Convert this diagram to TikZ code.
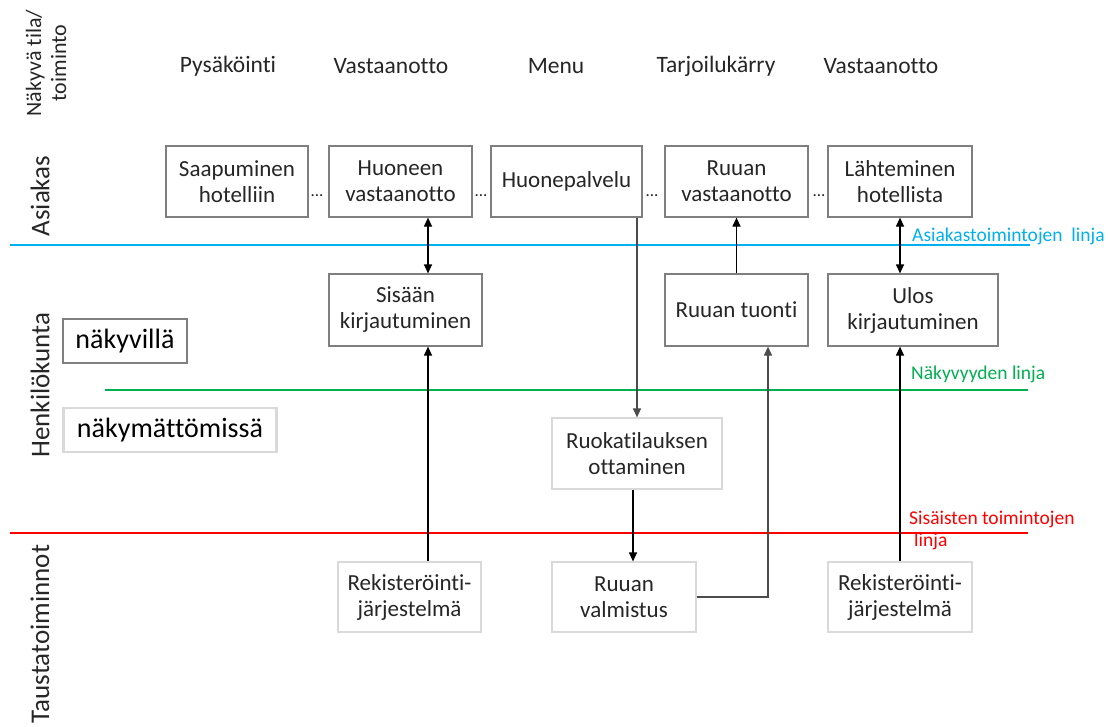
\documentclass[tikz,border=0pt]{standalone}
\usepackage{fontspec}
\setmainfont[Ligatures=NoCommon]{Carlito}
\usetikzlibrary{arrows.meta}
\definecolor{lblue}{RGB}{0,176,240}
\definecolor{lgreen}{RGB}{0,176,80}
\definecolor{lred}{RGB}{255,0,0}
\definecolor{dgray}{RGB}{127,127,127}
\definecolor{lgray}{RGB}{217,217,217}
\definecolor{txt}{RGB}{38,38,38}
\tikzset{
  ubox/.style={draw=dgray, line width=1.2pt, fill=white, inner sep=0pt, align=center, text=txt, font=\fontsize{23}{26}\selectfont},
  lbox/.style={ubox, draw=lgray},
  head/.style={text=txt, font=\fontsize{23.5}{26}\selectfont},
  side/.style={rotate=90, text=txt, font=\fontsize{27}{30}\selectfont, align=center},
  arr/.style={line width=1.2pt, draw=black, -{Triangle[length=9pt,width=8pt]}},
  barr/.style={line width=1.2pt, draw=black, {Triangle[length=9pt,width=8pt]}-{Triangle[length=9pt,width=8pt]}},
  garr/.style={arr, draw=black!70},
  dots/.style={text=txt, font=\fontsize{17}{17}\selectfont, inner sep=0pt},
  lline/.style={line width=2pt},
  llab/.style={anchor=west, inner sep=0pt, font=\fontsize{19.5}{22}\selectfont, align=left},
  vbox/.style={line width=2.6pt, minimum height=44, inner sep=0pt, text=black, font=\fontsize{28}{30}\selectfont}
}
\begin{document}
\begin{tikzpicture}[x=1pt,y=-1pt]
\useasboundingbox[fill=white] (0,0) rectangle (1108,726);

% side labels
\node[side, font=\fontsize{22}{25}\selectfont] (lab0) at (46,63) {Näkyvä tila/\\toiminto};
\node[side] (lab1) at (40,196) {Asiakas};
\node[side] (lab2) at (40,385) {Henkilökunta};
\node[side] (lab3) at (40,634) {Taustatoiminnot};

% headers
\node[head] (h1) at (228,66) {Pysäköinti};
\node[head] (h2) at (391,66) {Vastaanotto};
\node[head] (h3) at (556,66) {Menu};
\node[head] (h4) at (716,66) {Tarjoilukärry};
\node[head] (h5) at (881,66) {Vastaanotto};

% lines
\coordinate (b1) at (10,245); \coordinate (b2) at (1030,245);
\coordinate (g1) at (105,390); \coordinate (g2) at (1028,390);
\coordinate (r1) at (10,533); \coordinate (r2) at (1028,533);
\draw[lline, lblue] (b1) -- (b2);
\draw[lline, lgreen] (g1) -- (g2);
\draw[lline, lred] (r1) -- (r2);
\node[llab, text=lblue] (bl) at (912,236) {Asiakastoimintojen\ \ linja};
\node[llab, text=lgreen] (gl) at (911,374) {Näkyvyyden linja};
\node[llab, text=lred, anchor=north west] (rl) at (909,511) {Sisäisten toimintojen\\\hspace*{5pt}linja};

% visibility boxes
\node[vbox, draw=dgray, minimum width=124] (nv) at (125,341) {näkyvillä};
\node[vbox, draw=lgray, minimum width=213] (nm) at (170,430) {näkymättömissä};

% row 1
\node[ubox, minimum width=142, minimum height=71] (sh) at (237,181.5) {Saapuminen\\hotelliin};
\node[ubox, minimum width=143, minimum height=71] (hv) at (400.5,181.5) {Huoneen\\vastaanotto};
\node[ubox, minimum width=151, minimum height=71] (hp) at (566.5,181.5) {Huonepalvelu};
\node[ubox, minimum width=143, minimum height=71] (rv) at (736.5,181.5) {Ruuan\\vastaanotto};
\node[ubox, minimum width=144, minimum height=71] (lh) at (900,181.5) {Lähteminen\\hotellista};
\node[dots] (d1) at (317,196) {...};
\node[dots] (d2) at (481,196) {...};
\node[dots] (d3) at (652,196) {...};
\node[dots] (d4) at (819,196) {...};

% row 2
\node[ubox, minimum width=153, minimum height=72] (sk) at (405.5,310) {Sisään\\kirjautuminen};
\node[ubox, minimum width=143, minimum height=72] (rt) at (736.5,310) {Ruuan tuonti};
\node[ubox, minimum width=170, minimum height=72] (uk) at (913,310) {Ulos\\kirjautuminen};

% row 3
\node[lbox, minimum width=170, minimum height=71] (ro) at (637,453.5) {Ruokatilauksen\\ottaminen};

% row 4
\node[lbox, minimum width=143, minimum height=70] (rj1) at (409.5,597) {Rekisteröinti-\\järjestelmä};
\node[lbox, minimum width=144, minimum height=70] (rva) at (624,597) {Ruuan\\valmistus};
\node[lbox, minimum width=144, minimum height=70] (rj2) at (900,597) {Rekisteröinti-\\järjestelmä};

% connectors
\draw[barr] ([xshift=27.5pt]hv.south) -- ([xshift=22.5pt]sk.north);
\draw[garr] ([xshift=70.5pt]hp.south) -- (ro.north);
\draw[arr] (rt.north) -- (rv.south);
\draw[barr] (lh.south) -- ([xshift=-13pt]uk.north);
\draw[arr] ([xshift=18.5pt]rj1.north) -- ([xshift=22.5pt]sk.south);
\draw[arr] ([xshift=-4pt]ro.south) -- ([xshift=9pt]rva.north);
\draw[garr] (rva.east) -| ([xshift=31.5pt]rt.south);
\draw[arr] (rj2.north) -- ([xshift=-13pt]uk.south);
\end{tikzpicture}
\end{document}
